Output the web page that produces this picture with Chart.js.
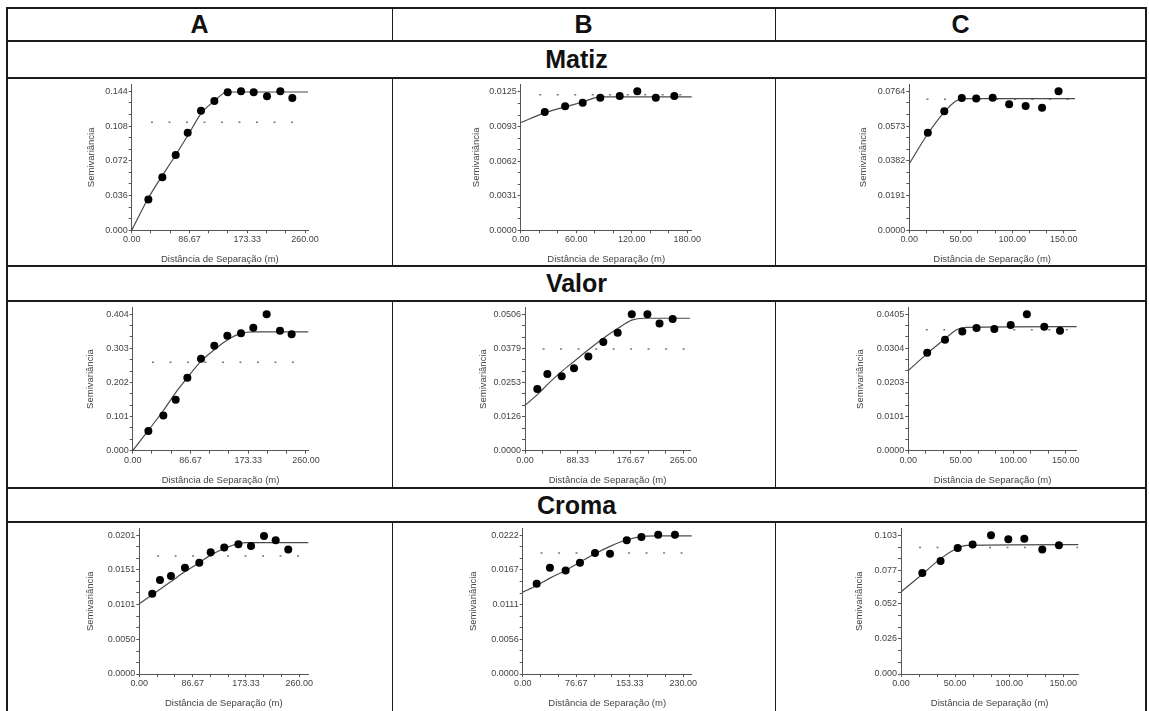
<!DOCTYPE html>
<html>
<head>
<meta charset="utf-8">
<script src="https://cdn.jsdelivr.net/npm/chart.js@4.4.0/dist/chart.umd.min.js"></script>
<style>
  html, body { margin: 0; padding: 0; background: #fff; }
  #sheet { position: relative; width: 1149px; height: 711px; overflow: hidden;
           font-family: "Liberation Sans", Arial, sans-serif; }
  .rule { position: absolute; background: #1c1c1c; z-index: 2; }
  .head { position: absolute; display: flex; align-items: center; justify-content: center;
          font-weight: bold; font-size: 25px; color: #111; }
  canvas { position: absolute; }
</style>
</head>
<body>
<div id="sheet"></div>
<script>
"use strict";

// ---- values ----
const columnNames = ["A", "B", "C"];
const sectionNames = ["Matiz", "Valor", "Croma"];
const yTitle = "Semivariância";
const xTitle = "Distância de Separação (m)";

// Matiz
const matizA_lag = [25, 46, 66, 84, 104, 124, 144, 164, 183, 203, 223, 241];
const matizA_gamma = [0.032, 0.055, 0.078, 0.101, 0.124, 0.134, 0.143, 0.144, 0.143, 0.139, 0.144, 0.137];
const matizA_fitX = [0, 25, 66, 84, 104, 124, 143, 264.5];
const matizA_fitY = [0, 0.0335, 0.078, 0.098, 0.121, 0.134, 0.1433, 0.1433];
const matizA_var = 0.112;
const matizA_xTicks = ["0.00", "86.67", "173.33", "260.00"];
const matizA_yTicks = ["0.000", "0.036", "0.072", "0.108", "0.144"];
const matizA_xMax = 264.5;

const matizB_lag = [26, 48, 67, 86, 107, 126, 146, 166];
const matizB_gamma = [0.01065, 0.01115, 0.01148, 0.01193, 0.01208, 0.0125, 0.01193, 0.01208];
const matizB_fitX = [0, 26, 48, 67, 86, 184.8];
const matizB_fitY = [0.0097, 0.01056, 0.0111, 0.01154, 0.0120, 0.0120];
const matizB_var = 0.0122;
const matizB_xTicks = ["0.00", "60.00", "120.00", "180.00"];
const matizB_yTicks = ["0.0000", "0.0031", "0.0062", "0.0093", "0.0125"];
const matizB_xMax = 184.8;

const matizC_lag = [18, 34, 51, 65, 81, 97, 113, 129, 145];
const matizC_gamma = [0.0537, 0.0654, 0.0727, 0.0724, 0.0729, 0.0693, 0.0683, 0.0674, 0.0764];
const matizC_fitX = [0, 18, 34, 45, 52, 161];
const matizC_fitY = [0.0366, 0.0531, 0.065, 0.0709, 0.0724, 0.0724];
const matizC_var = 0.0720;
const matizC_xTicks = ["0.00", "50.00", "100.00", "150.00"];
const matizC_yTicks = ["0.0000", "0.0191", "0.0382", "0.0573", "0.0764"];
const matizC_xMax = 161;

// Valor
const valorA_lag = [23.5, 46, 64.5, 82, 102.5, 122.5, 142, 162.5, 181, 201, 221, 238.5];
const valorA_gamma = [0.058, 0.104, 0.151, 0.216, 0.272, 0.311, 0.340, 0.348, 0.364, 0.404, 0.355, 0.345];
const valorA_fitX = [0, 23.5, 46, 64.5, 82, 102.5, 122.5, 142, 162.5, 181, 263.5];
const valorA_fitY = [0, 0.060, 0.119, 0.172, 0.216, 0.265, 0.299, 0.328, 0.3475, 0.352, 0.352];
const valorA_var = 0.262;
const valorA_xTicks = ["0.00", "86.67", "173.33", "260.00"];
const valorA_yTicks = ["0.000", "0.101", "0.202", "0.303", "0.404"];
const valorA_xMax = 263.5;

const valorB_lag = [20.6, 37.4, 61.4, 82, 106, 131, 155, 178.6, 204.8, 225, 247];
const valorB_gamma = [0.0229, 0.0284, 0.0276, 0.0306, 0.0349, 0.0403, 0.0437, 0.0506, 0.0506, 0.0472, 0.0488];
const valorB_fitX = [0, 20.6, 37.4, 61.4, 82, 106, 131, 155, 178.6, 198, 276];
const valorB_fitY = [0.0168, 0.0208, 0.0245, 0.0294, 0.0331, 0.0374, 0.0417, 0.0453, 0.0484, 0.0491, 0.0491];
const valorB_var = 0.0377;
const valorB_xTicks = ["0.00", "88.33", "176.67", "265.00"];
const valorB_yTicks = ["0.0000", "0.0126", "0.0253", "0.0379", "0.0506"];
const valorB_xMax = 276;

const valorC_lag = [18, 35, 51.5, 65, 82, 97.6, 113, 129.6, 144.6];
const valorC_gamma = [0.0291, 0.0329, 0.0354, 0.0364, 0.0361, 0.0373, 0.0405, 0.0368, 0.0356];
const valorC_fitX = [0, 18, 35, 46, 55, 160.5];
const valorC_fitY = [0.0238, 0.0288, 0.0332, 0.0359, 0.0366, 0.0368];
const valorC_var = 0.0359;
const valorC_xTicks = ["0.00", "50.00", "100.00", "150.00"];
const valorC_yTicks = ["0.0000", "0.0101", "0.0203", "0.0304", "0.0405"];
const valorC_xMax = 160.5;

// Croma
const cromaA_lag = [21, 33.6, 51.5, 74.2, 97.5, 116, 138, 161, 181.5, 202.6, 221.6, 242];
const cromaA_gamma = [0.01163, 0.01364, 0.01421, 0.01541, 0.01613, 0.01766, 0.01833, 0.01881, 0.01857, 0.0200, 0.01938, 0.01804];
const cromaA_fitX = [0, 21, 51.5, 74.2, 97.5, 116, 138, 161, 174.5, 274.6];
const cromaA_fitY = [0.01019, 0.01149, 0.0134, 0.01484, 0.01613, 0.01723, 0.01819, 0.0189, 0.01905, 0.01905];
const cromaA_var = 0.01709;
const cromaA_xTicks = ["0.00", "86.67", "173.33", "260.00"];
const cromaA_yTicks = ["0.0000", "0.0050", "0.0101", "0.0151", "0.0201"];
const cromaA_xMax = 274.6;

const cromaB_lag = [20, 39, 61.5, 82, 103.5, 125, 149, 170, 194, 218];
const cromaB_gamma = [0.01444, 0.01701, 0.01658, 0.01781, 0.01937, 0.01926, 0.0214, 0.02193, 0.0223, 0.0223];
const cromaB_fitX = [0, 20, 39, 61.5, 82, 103.5, 125, 149, 173, 192, 242];
const cromaB_fitY = [0.01311, 0.01418, 0.01535, 0.01658, 0.01792, 0.01926, 0.02043, 0.0215, 0.02204, 0.0221, 0.0221];
const cromaB_var = 0.01937;
const cromaB_xTicks = ["0.00", "76.67", "153.33", "230.00"];
const cromaB_yTicks = ["0.0000", "0.0056", "0.0111", "0.0167", "0.0222"];
const cromaB_xMax = 242;

const cromaC_lag = [19.7, 36.6, 52.4, 66.2, 83.2, 99.2, 114, 130.6, 146];
const cromaC_gamma = [0.0751, 0.084, 0.0936, 0.0961, 0.103, 0.100, 0.1005, 0.0924, 0.0956];
const cromaC_fitX = [0, 19.7, 36.6, 52.4, 60.8, 163.9];
const cromaC_fitY = [0.061, 0.0741, 0.0857, 0.0936, 0.0956, 0.0961];
const cromaC_var = 0.0939;
const cromaC_xTicks = ["0.00", "50.00", "100.00", "150.00"];
const cromaC_yTicks = ["0.000", "0.026", "0.052", "0.077", "0.103"];
const cromaC_xMax = 163.9;

const panels = [
  [matizA_lag, matizA_gamma, matizA_fitX, matizA_fitY, matizA_var, matizA_xTicks, matizA_yTicks, matizA_xMax],
  [matizB_lag, matizB_gamma, matizB_fitX, matizB_fitY, matizB_var, matizB_xTicks, matizB_yTicks, matizB_xMax],
  [matizC_lag, matizC_gamma, matizC_fitX, matizC_fitY, matizC_var, matizC_xTicks, matizC_yTicks, matizC_xMax],
  [valorA_lag, valorA_gamma, valorA_fitX, valorA_fitY, valorA_var, valorA_xTicks, valorA_yTicks, valorA_xMax],
  [valorB_lag, valorB_gamma, valorB_fitX, valorB_fitY, valorB_var, valorB_xTicks, valorB_yTicks, valorB_xMax],
  [valorC_lag, valorC_gamma, valorC_fitX, valorC_fitY, valorC_var, valorC_xTicks, valorC_yTicks, valorC_xMax],
  [cromaA_lag, cromaA_gamma, cromaA_fitX, cromaA_fitY, cromaA_var, cromaA_xTicks, cromaA_yTicks, cromaA_xMax],
  [cromaB_lag, cromaB_gamma, cromaB_fitX, cromaB_fitY, cromaB_var, cromaB_xTicks, cromaB_yTicks, cromaB_xMax],
  [cromaC_lag, cromaC_gamma, cromaC_fitX, cromaC_fitY, cromaC_var, cromaC_xTicks, cromaC_yTicks, cromaC_xMax],
];

// ---- page layout (pixels) ----
const colX = [7, 392, 775, 1146];
const headRow = [8, 41];
const sectionRows = [[41, 78], [266, 301], [488, 522]];
const plotRows = [[78, 266], [301, 488], [522, 711]];
const plotAreaY = [[84, 230.3], [305.4, 450.7], [528, 674]];
// plot left, plot right, y-title centre
const plotAreaX = [
  [131.7, 308, 91.7], [520.7, 691.7, 476.7], [909.3, 1075, 863.3],
  [132.7, 308.3, 90.7], [525, 690, 483.3], [908.3, 1076.7, 860],
  [139.3, 308.3, 90.7], [522.7, 691.7, 473.3], [901, 1078.3, 859.3],
];

const FAMILY = '"Liberation Sans", Arial, sans-serif';
const FS = 9;       // tick labels
const FT = 9.5;     // axis titles
const LH = FT * 1.2;
const TXT = "#444";
const AXIS = "#555";

const sheet = document.getElementById("sheet");

function rule(x, y, w, h) {
  const d = document.createElement("div");
  d.className = "rule";
  d.style.left = x + "px";
  d.style.top = y + "px";
  d.style.width = w + "px";
  d.style.height = h + "px";
  sheet.appendChild(d);
}

function head(text, x0, x1, y0, y1) {
  const d = document.createElement("div");
  d.className = "head";
  d.textContent = text;
  d.style.left = x0 + "px";
  d.style.width = (x1 - x0) + "px";
  d.style.top = y0 + "px";
  d.style.height = (y1 - y0) + "px";
  sheet.appendChild(d);
}

// table grid
const hLines = [headRow[0], headRow[1], 78, 266, 301, 488, 522];
hLines.forEach((y) => rule(colX[0] - 1, y - 1, colX[3] - colX[0] + 2, 2));
rule(colX[0] - 1, headRow[0], 2, 711 - headRow[0]);
rule(colX[3] - 1, headRow[0], 2, 711 - headRow[0]);
[1, 2].forEach((c) => {
  [[headRow[0], headRow[1]], plotRows[0], plotRows[1], plotRows[2]].forEach(([a, b]) =>
    rule(colX[c] - 0.5, a, 1, b - a));
});

columnNames.forEach((n, c) => head(n, colX[c], colX[c + 1], headRow[0], headRow[1]));
sectionNames.forEach((n, r) => head(n, colX[0], colX[3], sectionRows[r][0], sectionRows[r][1]));

// major labels plus two minor ticks between each pair
function tickList(labels) {
  const out = [];
  labels.forEach((lab, i) => {
    const v = Number(lab);
    out.push({ value: v, label: lab });
    if (i < labels.length - 1) {
      const step = (Number(labels[i + 1]) - v) / 3;
      out.push({ value: v + step, label: "" }, { value: v + 2 * step, label: "" });
    }
  });
  return out;
}

panels.forEach((p, k) => {
  const [lag, gamma, fitX, fitY, sill, xLabels, yLabels, xMax] = p;
  const r = Math.floor(k / 3);
  const c = k % 3;
  const cellL = colX[c];
  const cellT = plotRows[r][0];
  const W = colX[c + 1] - colX[c];
  const H = plotRows[r][1] - plotRows[r][0];
  const [left, right, titleX] = plotAreaX[k];
  const [top, bottom] = plotAreaY[r];

  const padL = titleX - LH / 2 - cellL;
  const yW = left - cellL - padL;
  const xH = 29.5 + LH / 2;
  const padR = cellL + W - right;
  const padT = top - cellT;
  const padB = cellT + H - bottom - xH;

  const xt = tickList(xLabels);
  const yt = tickList(yLabels);
  const yMax = Number(yLabels[yLabels.length - 1]) * 1.05;

  const cv = document.createElement("canvas");
  cv.width = W;
  cv.height = H;
  cv.style.left = cellL + "px";
  cv.style.top = cellT + "px";
  sheet.appendChild(cv);

  new Chart(cv, {
    type: "scatter",
    data: {
      datasets: [
        {
          data: lag.map((x, i) => ({ x, y: gamma[i] })),
          pointRadius: 4,
          pointBackgroundColor: "#000",
          pointBorderWidth: 0,
          clip: false,
          order: 0,
        },
        {
          type: "line",
          data: fitX.map((x, i) => ({ x, y: fitY[i] })),
          borderColor: "#4a4a4a",
          borderWidth: 1.2,
          pointRadius: 0,
          cubicInterpolationMode: "monotone",
          fill: false,
          clip: false,
          order: 1,
        },
        {
          type: "line",
          data: [{ x: xt[1].value, y: sill }, { x: xMax, y: sill }],
          borderColor: "#777",
          borderWidth: 1.5,
          borderDash: [2, 15.5],
          pointRadius: 0,
          fill: false,
          order: 2,
        },
      ],
    },
    options: {
      responsive: false,
      animation: false,
      devicePixelRatio: 1,
      layout: { autoPadding: false, padding: { left: padL, right: padR, top: padT, bottom: padB } },
      plugins: { legend: { display: false }, tooltip: { enabled: false } },
      scales: {
        x: {
          type: "linear",
          min: 0,
          max: xMax,
          afterBuildTicks: (s) => { s.ticks = xt.map((t) => ({ value: t.value })); },
          afterFit: (s) => { s.height = xH; },
          ticks: {
            callback: (v, i) => (xt[i] ? xt[i].label : ""),
            autoSkip: false, maxRotation: 0, padding: 1,
            color: TXT, font: { size: FS, family: FAMILY },
          },
          grid: { drawOnChartArea: false, drawTicks: true, tickLength: 3, color: AXIS },
          border: { display: true, color: AXIS, width: 1 },
          title: { display: true, text: xTitle, color: TXT, font: { size: FT, family: FAMILY }, padding: 0 },
        },
        y: {
          type: "linear",
          min: 0,
          max: yMax,
          afterBuildTicks: (s) => { s.ticks = yt.map((t) => ({ value: t.value })); },
          afterFit: (s) => { s.width = yW; },
          ticks: {
            callback: (v, i) => (yt[i] ? yt[i].label : ""),
            autoSkip: false, padding: 1,
            color: TXT, font: { size: FS, family: FAMILY },
          },
          grid: { drawOnChartArea: false, drawTicks: true, tickLength: 3, color: AXIS },
          border: { display: true, color: AXIS, width: 1 },
          title: { display: true, text: yTitle, color: TXT, font: { size: FT, family: FAMILY }, padding: 0 },
        },
      },
    },
  });
});
</script>
</body>
</html>
